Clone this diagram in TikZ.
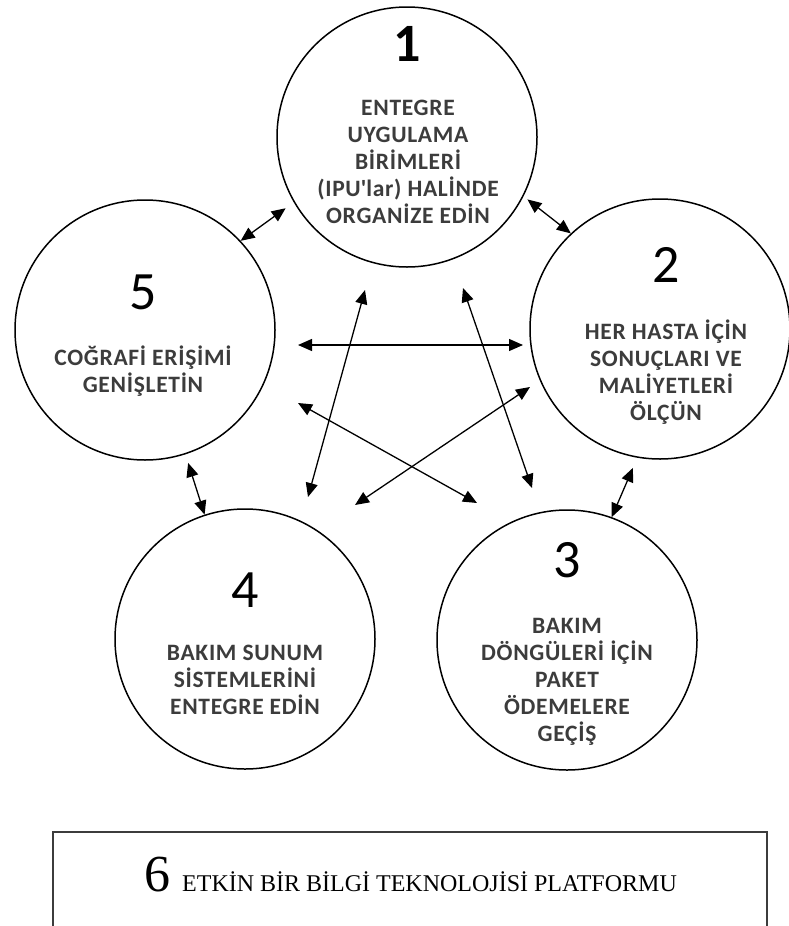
\documentclass[tikz,border=0pt]{standalone}
\usepackage{fontspec}
\setmainfont{Liberation Serif}
\newfontfamily\calibri{Carlito}
\newfontfamily\calibriaralik[LetterSpace=3]{Carlito}
\usetikzlibrary{arrows.meta}
\definecolor{szurke}{HTML}{3C3C3C}

\begin{document}
\begin{tikzpicture}[x=1pt, y=-1pt,
        kor/.style={circle, draw, line width=1.5pt, minimum size=260pt, inner sep=0pt},
        szam/.style={font=\calibri\fontsize{54}{54}\selectfont, inner sep=0pt},
        szoveg/.style={font=\calibriaralik\bfseries\fontsize{23.5}{27}\selectfont, text=szurke, align=center, inner sep=0pt},
        nyil/.style={{Triangle[length=14pt,width=12pt]}-{Triangle[length=14pt,width=12pt]}, line width=1.3pt}]
        \useasboundingbox (0,0) rectangle (788,926);

        \foreach \i/\x/\y in {1/407/137, 2/660/329, 3/567/640, 4/245/639, 5/145/330} {
        \node[kor] (K\i) at (\x,\y) {};
        }

        \node[szam, font=\calibri\bfseries\fontsize{54}{54}\selectfont] (N1) at (407,44) {1};
        \node[szam] (N2) at (666,265) {2};
        \node[szam] (N3) at (567,560) {3};
        \node[szam] (N4) at (245,590) {4};
        \node[szam] (N5) at (143,292) {5};

        \node[szoveg] (T1) at (408,162) {ENTEGRE\\UYGULAMA\\BİRİMLERİ\\(IPU\textquotesingle lar) HALİNDE\\ORGANİZE EDİN};
        \node[szoveg] (T2) at (666,372) {HER HASTA İÇİN\\SONUÇLARI VE\\MALİYETLERİ\\ÖLÇÜN};
        \node[szoveg] (T3) at (567,682) {BAKIM\\DÖNGÜLERİ İÇİN\\PAKET\\ÖDEMELERE\\GEÇİŞ};
        \node[szoveg] (T4) at (245,680) {BAKIM SUNUM\\SİSTEMLERİNİ\\ENTEGRE EDİN};
        \node[szoveg] (T5) at (143,371) {COĞRAFİ ERİŞİMİ\\GENİŞLETİN};

        \draw[nyil, shorten >=10pt] (K5.43) -- (K1.210);
        \draw[nyil, shorten <=5pt] (K1.-27) -- (K2.133);
        \draw[nyil, shorten <=11pt] (K2.260) -- (K3.70);
        \draw[nyil, shorten <=9pt] (K5.-72) -- (K4.108);

        \coordinate (A5) at (298,345);
        \coordinate (A2) at (523,345);
        \coordinate (B1) at (365,290);
        \coordinate (B4) at (308,497);
        \coordinate (C1) at (463,288);
        \coordinate (C3) at (532,488);
        \coordinate (D5) at (298,403);
        \coordinate (D3) at (477,503);
        \coordinate (E2) at (530,387);
        \coordinate (E4) at (355,505);
        \foreach \p/\q in {A5/A2, B1/B4, C1/C3, D5/D3, E2/E4} {
        \draw[nyil] (\p) -- (\q);
        }

        \draw[line width=2pt, szurke] (53,930) -- (53,832) -- (767,832) -- (767,930);
        \node[anchor=base west, inner sep=0pt, font=\fontsize{24}{24}\selectfont] (P6) at (144,891)
        {{\fontsize{52}{52}\selectfont 6}\hspace{12pt}ETKİN BİR BİLGİ TEKNOLOJİSİ PLATFORMU};
    \end{tikzpicture}
\end{document}
